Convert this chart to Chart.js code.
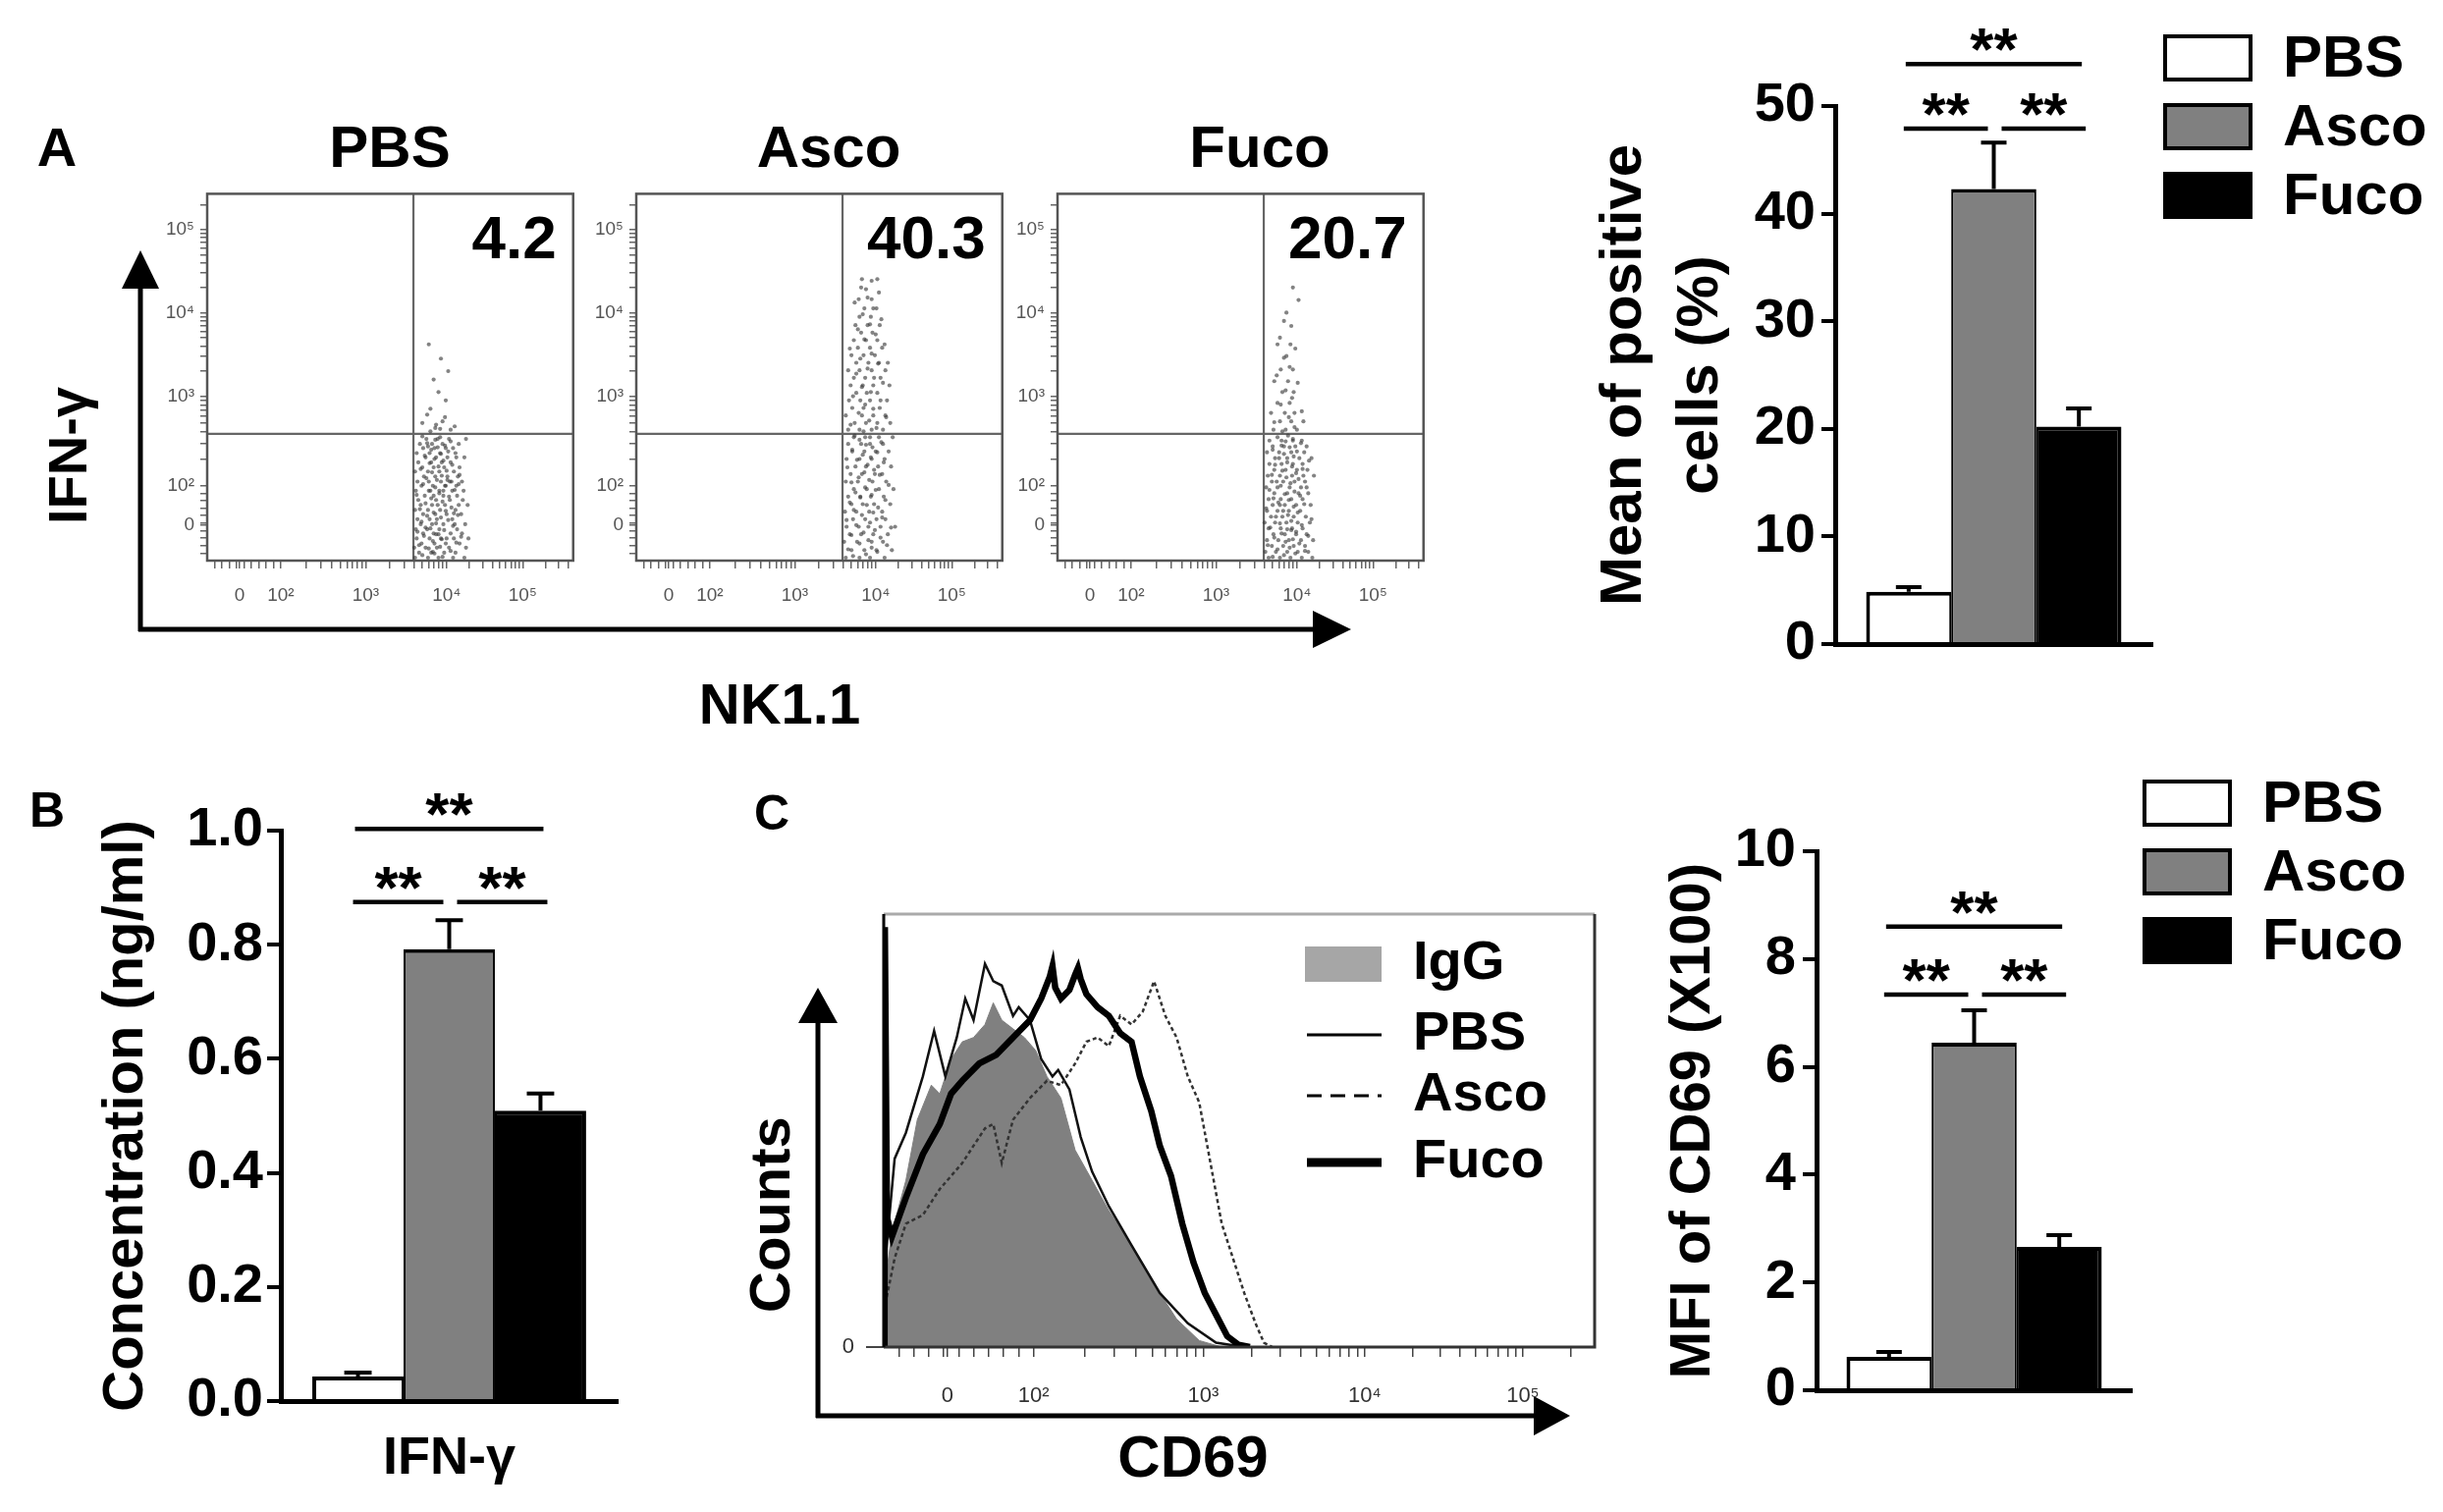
<!DOCTYPE html>
<html><head><meta charset="utf-8">
<script src="https://cdn.jsdelivr.net/npm/chart.js@4.4.0/dist/chart.umd.min.js"></script>
<style>
html,body{margin:0;padding:0;background:#fff;}
#page{position:relative;width:2488px;height:1540px;background:#fff;overflow:hidden;font-family:'Liberation Sans',Arial,sans-serif;font-weight:bold;color:#000;}
canvas{position:absolute;}
.lbl{position:absolute;white-space:nowrap;transform:translate(-50%,-50%);line-height:1;}
.rot{transform:translate(-50%,-50%) rotate(-90deg);}
svg{position:absolute;left:0;top:0;}
</style></head><body><div id="page">
<svg width="2488" height="1540">
 <g stroke="#000" stroke-width="5" fill="none">
  <line x1="143" y1="643" x2="143" y2="285"/>
  <line x1="141" y1="641" x2="1345" y2="641"/>
  <line x1="833" y1="1444" x2="833" y2="1035"/>
  <line x1="831" y1="1442" x2="1567" y2="1442"/>
 </g>
 <g fill="#000">
  <polygon points="143,255 124,294 162,294"/>
  <polygon points="1376,641 1337,622 1337,660"/>
  <polygon points="833,1006 813,1042 853,1042"/>
  <polygon points="1599,1442 1562,1422 1562,1462"/>
 </g>
</svg>
<div class="lbl" style="left:58px;top:150px;font-size:56px">A</div>
<div class="lbl" style="left:48px;top:825px;font-size:50px">B</div>
<div class="lbl" style="left:786px;top:828px;font-size:50px">C</div>
<div class="lbl" id="t0" style="left:397px;top:150px;font-size:60px"></div>
<div class="lbl" id="t1" style="left:844px;top:150px;font-size:60px"></div>
<div class="lbl" id="t2" style="left:1283px;top:150px;font-size:60px"></div>
<div class="lbl rot" style="left:69px;top:464px;font-size:56px">IFN-γ</div>
<div class="lbl" style="left:794px;top:717px;font-size:58px">NK1.1</div>
<div class="lbl rot" style="left:784px;top:1237px;font-size:58px">Counts</div>
<div class="lbl" style="left:1215px;top:1484px;font-size:60px">CD69</div>
<canvas id="dot0" width="445" height="455" style="left:150px;top:180px"></canvas>
<canvas id="dot1" width="445" height="455" style="left:587px;top:180px"></canvas>
<canvas id="dot2" width="445" height="455" style="left:1016px;top:180px"></canvas>
<canvas id="barNK" width="928" height="760" style="left:1560px;top:0px"></canvas>
<canvas id="barIFN" width="720" height="780" style="left:0px;top:760px"></canvas>
<canvas id="hist" width="900" height="640" style="left:740px;top:880px"></canvas>
<canvas id="barCD69" width="888" height="780" style="left:1600px;top:760px"></canvas>
</div>
<script>
// ---------------- DATA ----------------
const groups = ['PBS', 'Asco', 'Fuco'];

// Panel A: dot plots (NK1.1 vs IFN-γ), coordinates in decade units of the display scale
const flowTitles = ['PBS', 'Asco', 'Fuco'];
const flowPercent = ['4.2', '40.3', '20.7'];
const flowGateX = 3.59;
const flowGateY = 2.55;
const logLabels = ['0', '10²', '10³', '10⁴', '10⁵'];
const flowXMajor = [1.44, 1.95, 3, 4, 4.94];
const flowYMajor = [1.465, 1.93, 3, 4, 4.99];

const dotsPBS = [[3.70,1.10],[3.85,1.12],[3.95,1.08],[4.05,1.15],[3.78,1.18],[3.66,1.22],[3.92,1.20],[4.12,1.25],[3.83,1.27],[4.00,1.30],[3.72,1.33],[3.90,1.35],[4.18,1.32],[3.64,1.38],[3.97,1.40],[3.80,1.42],[4.08,1.45],[3.87,1.48],[3.69,1.50],[4.02,1.52],[3.93,1.55],[3.76,1.57],[4.14,1.58],[3.84,1.61],[3.99,1.63],[3.67,1.65],[4.06,1.67],[3.89,1.70],[3.74,1.72],[3.95,1.74],[4.20,1.76],[3.81,1.78],[4.03,1.80],[3.63,1.82],[3.91,1.84],[3.78,1.87],[4.10,1.88],[3.86,1.91],[3.98,1.93],[3.71,1.95],[4.04,1.98],[3.88,2.00],[3.75,2.02],[3.94,2.05],[4.16,2.06],[3.82,2.09],[4.00,2.11],[3.68,2.13],[3.90,2.16],[4.07,2.18],[3.79,2.20],[3.96,2.23],[3.85,2.25],[4.12,2.27],[3.73,2.29],[3.93,2.31],[4.02,2.34],[3.81,2.36],[3.89,2.39],[3.98,2.41],[3.76,2.44],[4.05,2.46],[3.86,2.48],[3.92,2.51],[3.70,2.52],[4.09,1.60],[3.87,1.35],[3.96,1.87],[3.74,1.43],[4.01,2.00],[3.83,1.14],[3.94,1.29],[4.15,1.95],[3.77,2.40],[3.86,2.62],[3.95,2.70],[3.80,2.85],[3.99,2.95],[3.84,3.20],[3.93,3.45],[3.78,3.62],
 [3.61,1.07],[3.77,1.07],[3.90,1.07],[4.08,1.07],[4.22,1.07],[3.66,1.13],[3.81,1.13],[3.97,1.13],[4.11,1.13],[3.60,1.19],[3.74,1.19],[3.88,1.19],[4.03,1.19],[4.24,1.19],[3.69,1.24],[3.85,1.24],[3.99,1.24],[4.16,1.24],[3.63,1.30],[3.79,1.30],[3.93,1.30],[4.09,1.30],[4.27,1.30],[3.71,1.36],[3.84,1.36],[4.05,1.36],[4.19,1.36],[3.62,1.41],[3.76,1.41],[3.91,1.41],[4.13,1.41],[3.68,1.47],[3.82,1.47],[3.96,1.47],[4.10,1.47],[4.23,1.47],[3.64,1.53],[3.79,1.53],[3.88,1.53],[4.07,1.53],[3.71,1.59],[3.86,1.59],[4.00,1.59],[4.18,1.59],[3.61,1.64],[3.77,1.64],[3.92,1.64],[4.11,1.64],[3.68,1.70],[3.82,1.70],[3.98,1.70],[4.15,1.70],[4.26,1.70],[3.65,1.76],[3.87,1.76],[4.04,1.76],[3.73,1.81],[3.84,1.81],[3.96,1.81],[4.13,1.81],[3.62,1.87],[3.80,1.87],[3.91,1.87],[4.07,1.87],[4.21,1.87],[3.69,1.93],[3.83,1.93],[3.99,1.93],[4.12,1.93],[3.64,1.98],[3.78,1.98],[3.93,1.98],[4.06,1.98],[4.19,1.98],[3.72,2.04],[3.86,2.04],[4.01,2.04],[4.14,2.04],[3.61,2.10],[3.77,2.10],[3.91,2.10],[4.09,2.10],[3.70,2.15],[3.84,2.15],[3.97,2.15],[4.16,2.15],[3.65,2.21],[3.81,2.21],[3.94,2.21],[4.05,2.21],[3.74,2.27],[3.87,2.27],[4.01,2.27],[4.22,2.27],[3.63,2.32],[3.79,2.32],[3.92,2.32],[4.11,2.32],[3.71,2.38],[3.85,2.38],[3.99,2.38],[4.08,2.38],[3.67,2.43],[3.82,2.43],[3.95,2.43],[4.15,2.43],[3.75,2.49],[3.89,2.49],[4.03,2.49],[4.24,2.49],
 [3.80,2.58],[3.92,2.61],[4.05,2.60],[3.87,2.66],[3.98,2.75],[3.76,2.78],[4.10,2.64],[3.90,3.05],[4.02,3.30],[3.70,2.68]];
const dotsAsco = [[3.72,1.09],[3.88,1.11],[4.02,1.14],[3.66,1.17],[3.95,1.19],[4.14,1.22],[3.80,1.24],[3.91,1.28],[4.06,1.31],[3.70,1.34],[3.85,1.37],[3.99,1.40],[4.19,1.43],[3.76,1.46],[3.93,1.49],[3.64,1.52],[4.08,1.55],[3.83,1.58],[3.97,1.61],[3.73,1.64],[4.03,1.67],[3.89,1.70],[3.68,1.73],[4.12,1.76],[3.81,1.79],[3.95,1.82],[3.75,1.85],[4.00,1.88],[3.87,1.91],[4.16,1.94],[3.70,1.97],[3.92,2.00],[3.79,2.03],[4.05,2.06],[3.86,2.09],[3.98,2.12],[3.65,2.15],[3.90,2.18],[4.10,2.21],[3.77,2.24],[3.94,2.27],[3.84,2.30],[4.02,2.33],[3.71,2.36],[3.96,2.39],[3.88,2.42],[4.07,2.45],[3.80,2.48],[3.93,2.51],[3.74,2.53],[3.85,2.58],[4.01,2.62],[3.69,2.66],[3.92,2.71],[4.13,2.75],[3.79,2.80],[3.97,2.85],[3.87,2.90],[4.06,2.95],[3.72,3.00],[3.94,3.05],[3.83,3.11],[4.09,3.16],[3.98,3.22],[3.76,3.27],[3.90,3.33],[4.03,3.39],[3.81,3.45],[3.95,3.51],[3.68,3.57],[4.11,3.62],[3.86,3.68],[4.00,3.74],[3.78,3.80],[3.93,3.86],[4.07,3.92],[3.84,3.98],[3.97,4.05],[3.74,4.12],[3.90,4.18],[4.04,4.24],[3.82,4.30],[3.95,4.38],[4.15,3.40],
 [3.63,1.07],[3.80,1.07],[3.93,1.07],[4.11,1.07],[3.70,1.16],[3.86,1.16],[4.01,1.16],[4.20,1.16],[3.61,1.26],[3.77,1.26],[3.95,1.26],[4.09,1.26],[3.68,1.35],[3.82,1.35],[3.97,1.35],[4.15,1.35],[3.64,1.44],[3.79,1.44],[3.91,1.44],[4.06,1.44],[4.24,1.44],[3.72,1.53],[3.87,1.53],[4.01,1.53],[4.12,1.53],[3.62,1.62],[3.76,1.62],[3.92,1.62],[4.08,1.62],[3.70,1.71],[3.84,1.71],[3.98,1.71],[4.18,1.71],[3.66,1.80],[3.81,1.80],[3.94,1.80],[4.10,1.80],[3.73,1.89],[3.89,1.89],[4.04,1.89],[4.22,1.89],[3.63,1.98],[3.78,1.98],[3.96,1.98],[4.13,1.98],[3.69,2.07],[3.83,2.07],[3.99,2.07],[4.08,2.07],[3.75,2.16],[3.88,2.16],[4.03,2.16],[4.19,2.16],[3.64,2.25],[3.80,2.25],[3.95,2.25],[4.11,2.25],[3.71,2.34],[3.86,2.34],[4.00,2.34],[4.16,2.34],[3.66,2.43],[3.82,2.43],[3.93,2.43],[4.09,2.43],[3.73,2.51],[3.87,2.51],[4.04,2.51],[4.21,2.51],
 [3.66,2.60],[3.80,2.60],[3.95,2.60],[4.09,2.60],[3.74,2.68],[3.88,2.68],[4.02,2.68],[4.18,2.68],[3.63,2.77],[3.83,2.77],[3.97,2.77],[4.12,2.77],[3.71,2.86],[3.85,2.86],[4.05,2.86],[3.67,2.95],[3.81,2.95],[3.93,2.95],[4.14,2.95],[3.76,3.04],[3.89,3.04],[4.02,3.04],[3.69,3.13],[3.84,3.13],[3.97,3.13],[4.17,3.13],[3.73,3.22],[3.87,3.22],[4.06,3.22],[3.66,3.31],[3.80,3.31],[3.95,3.31],[4.12,3.31],[3.76,3.40],[3.91,3.40],[4.04,3.40],[3.70,3.49],[3.85,3.49],[3.99,3.49],[3.78,3.58],[3.93,3.58],[4.08,3.58],[3.73,3.67],[3.88,3.67],[4.02,3.67],[3.82,3.76],[3.96,3.76],[3.75,3.85],[3.90,3.85],[4.05,3.85],[3.80,3.95],[3.94,3.95],[3.86,4.05],[4.01,4.05],[3.79,4.16],[3.95,4.16],[3.88,4.28],[3.83,4.40],[4.02,4.40]];
const dotsFuco = [[3.70,1.08],[3.84,1.10],[3.98,1.12],[4.10,1.15],[3.76,1.17],[3.91,1.19],[3.64,1.22],[4.03,1.24],[3.86,1.26],[3.95,1.29],[3.72,1.31],[4.14,1.33],[3.81,1.36],[3.99,1.38],[3.88,1.41],[3.67,1.43],[4.06,1.46],[3.79,1.48],[3.93,1.51],[4.18,1.53],[3.74,1.56],[3.89,1.58],[4.01,1.61],[3.83,1.63],[3.62,1.66],[3.96,1.68],[4.09,1.71],[3.77,1.73],[3.90,1.76],[3.71,1.78],[4.04,1.81],[3.85,1.83],[3.97,1.86],[3.66,1.88],[4.12,1.91],[3.80,1.93],[3.92,1.96],[3.75,1.98],[4.02,2.01],[3.87,2.03],[3.69,2.06],[3.99,2.08],[3.82,2.11],[4.07,2.13],[3.94,2.16],[3.73,2.18],[3.88,2.21],[4.15,2.23],[3.78,2.26],[3.96,2.28],[3.84,2.31],[4.00,2.34],[3.70,2.36],[3.91,2.39],[3.81,2.41],[4.05,2.44],[3.86,2.46],[3.95,2.49],[3.76,2.51],[3.89,2.53],[3.93,1.40],[3.79,1.70],[3.82,2.58],[3.97,2.63],[3.72,2.69],[3.90,2.75],[4.06,2.82],[3.80,2.90],[3.94,2.98],[3.86,3.07],[4.01,3.16],[3.75,3.25],[3.91,3.35],[3.84,3.46],[3.98,3.57],[3.79,3.70],[3.93,3.84],[3.87,4.00],[4.02,4.15],[3.95,4.30],
 [3.65,1.07],[3.79,1.07],[3.92,1.07],[4.06,1.07],[4.19,1.07],[3.61,1.14],[3.74,1.14],[3.88,1.14],[4.01,1.14],[4.14,1.14],[3.69,1.21],[3.83,1.21],[3.96,1.21],[4.10,1.21],[3.63,1.28],[3.77,1.28],[3.90,1.28],[4.05,1.28],[4.20,1.28],[3.71,1.35],[3.85,1.35],[3.99,1.35],[4.12,1.35],[3.65,1.42],[3.80,1.42],[3.94,1.42],[4.07,1.42],[3.60,1.49],[3.73,1.49],[3.87,1.49],[4.01,1.49],[4.16,1.49],[3.68,1.56],[3.82,1.56],[3.96,1.56],[4.11,1.56],[3.63,1.63],[3.76,1.63],[3.90,1.63],[4.04,1.63],[3.70,1.70],[3.85,1.70],[3.99,1.70],[4.17,1.70],[3.65,1.77],[3.80,1.77],[3.93,1.77],[4.07,1.77],[3.72,1.84],[3.88,1.84],[4.02,1.84],[4.14,1.84],[3.62,1.91],[3.76,1.91],[3.91,1.91],[4.05,1.91],[3.69,1.98],[3.83,1.98],[3.97,1.98],[4.10,1.98],[3.64,2.05],[3.79,2.05],[3.94,2.05],[4.08,2.05],[4.21,2.05],[3.72,2.12],[3.86,2.12],[4.00,2.12],[4.13,2.12],[3.66,2.19],[3.81,2.19],[3.95,2.19],[4.07,2.19],[3.73,2.26],[3.88,2.26],[4.03,2.26],[4.18,2.26],[3.63,2.33],[3.78,2.33],[3.93,2.33],[4.09,2.33],[3.70,2.40],[3.84,2.40],[3.98,2.40],[4.12,2.40],[3.66,2.47],[3.81,2.47],[3.95,2.47],[4.06,2.47],
 [3.71,2.60],[3.86,2.60],[4.00,2.60],[3.79,2.70],[3.93,2.70],[4.08,2.70],[3.68,2.80],[3.85,2.80],[3.97,2.80],[3.76,2.92],[3.91,2.92],[3.82,3.05],[3.96,3.05],[3.72,3.18],[3.89,3.18],[3.80,3.32],[3.95,3.32],[3.87,3.48],[3.76,3.62],[3.92,3.62],[3.84,3.90]];

// Panel A right: mean of positive cells (%)
const nkCategories = [''];
const nkMean = [4.85, 42.3, 20.2];
const nkErr = [0.45, 4.3, 1.7];
const nkSig = [[0, 2, 53.9], [0, 1, 47.9], [1, 2, 47.9]];

// Panel B: IFN-γ concentration (ng/ml)
const ifnCategories = ['IFN-γ'];
const ifnMean = [0.043, 0.792, 0.509];
const ifnErr = [0.007, 0.051, 0.030];
const ifnSig = [[0, 2, 1.003], [0, 1, 0.875], [1, 2, 0.875]];

// Panel C left: CD69 histograms (x in decade units, y in % of max)
const histXMajor = [1.43, 1.96, 3, 3.99, 4.96];
const cd69IgG = [[1.05,15],[1.09,26.5],[1.176,38.5],[1.246,52.5],[1.332,60.5],[1.384,58.5],[1.453,66.5],[1.522,70.5],[1.591,71.5],[1.661,74.5],[1.712,79.5],[1.764,75.5],[1.833,73.5],[1.903,71.5],[1.972,68.5],[2.041,62.5],[2.127,57.5],[2.214,45.5],[2.318,38.5],[2.421,31.5],[2.56,23.5],[2.698,14.5],[2.836,6.5],[2.975,1.5],[3.113,0]];
const cd69PBS = [[1.05,20],[1.107,43.5],[1.176,49.5],[1.28,62.5],[1.349,73],[1.418,62.5],[1.488,71.5],[1.54,80.5],[1.591,75.5],[1.661,88.5],[1.712,84.5],[1.764,83.5],[1.833,76.5],[1.868,78.5],[1.937,75.5],[2.006,66.5],[2.075,62.5],[2.11,64],[2.179,59.5],[2.248,48.5],[2.318,40.5],[2.421,32.5],[2.56,23.5],[2.733,12.5],[2.905,5.5],[3.078,1],[3.251,0]];
const cd69Asco = [[1.05,10],[1.107,20.5],[1.176,28.5],[1.28,30.5],[1.384,36.5],[1.453,39.5],[1.522,42.5],[1.591,46.5],[1.661,50.5],[1.712,51.5],[1.764,42.5],[1.833,52.5],[1.937,57.5],[2.041,61.5],[2.127,60.5],[2.214,65.5],[2.283,70.5],[2.352,71.5],[2.421,69.5],[2.49,76.5],[2.56,74.5],[2.629,77.5],[2.698,84.5],[2.767,76.5],[2.836,71.5],[2.905,62.5],[2.975,56.5],[3.044,42.5],[3.113,28.5],[3.182,20.5],[3.251,12.5],[3.32,5.5],[3.372,1],[3.424,0]];
const cd69Fuco = [[1.045,0],[1.047,97],[1.06,30],[1.09,25.5],[1.176,34.5],[1.28,44.5],[1.384,51.5],[1.453,58.5],[1.522,61.5],[1.626,65.5],[1.73,67.5],[1.833,71.5],[1.937,75.5],[2.006,80.5],[2.058,85.5],[2.075,88],[2.092,83],[2.127,80.5],[2.179,82.5],[2.214,86],[2.231,87.5],[2.248,85],[2.283,81.5],[2.352,78.5],[2.421,76.5],[2.49,72.5],[2.56,70.5],[2.611,62.5],[2.681,54.5],[2.733,46.5],[2.802,39.5],[2.871,28.5],[2.94,19.5],[3.009,12.5],[3.078,7.5],[3.147,2.5],[3.217,0.5],[3.286,0]];

// Panel C right: MFI of CD69 (x100)
const cdCategories = [''];
const cdMean = [0.62, 6.45, 2.66];
const cdErr = [0.09, 0.60, 0.22];
const cdSig = [[0, 2, 8.6], [0, 1, 7.34], [1, 2, 7.34]];

// ---------------- HELPERS ----------------
const FONT = "'Liberation Sans', Arial, sans-serif";
Chart.defaults.font.family = FONT;
Chart.defaults.color = '#000';

flowTitles.forEach((t, i) => { document.getElementById('t' + i).textContent = t; });

function buildTicks(majors, lo, hi) {
  const vals = majors.slice();
  for (let k = 1; k < 10; k++) vals.push(lo + (majors[1] - lo) * k / 10);
  for (let d = 1; d < majors.length; d++) {
    const a = majors[d];
    const b = d + 1 < majors.length ? majors[d + 1] : majors[d] + (majors[d] - majors[d - 1]);
    for (let k = 2; k <= 9; k++) vals.push(a + (b - a) * Math.log10(k));
  }
  return vals.filter(v => v > lo && v < hi).sort((p, q) => p - q).map(v => ({ value: v }));
}
function majorLabel(majors, v) {
  const i = majors.findIndex(m => Math.abs(m - v) < 1e-9);
  return i >= 0 ? logLabels[i] : '';
}

// ---------------- PLUGINS ----------------
const flowFrame = {
  id: 'flowFrame',
  beforeDatasetsDraw(chart, args, o) {
    const { ctx, chartArea: a, scales: { x, y } } = chart;
    ctx.save();
    const gx = x.getPixelForValue(o.gateX), gy = y.getPixelForValue(o.gateY);
    ctx.strokeStyle = '#666'; ctx.lineWidth = 2.2;
    ctx.beginPath();
    ctx.moveTo(gx, a.top); ctx.lineTo(gx, a.bottom);
    ctx.moveTo(a.left, gy); ctx.lineTo(a.right, gy);
    ctx.stroke();
    ctx.restore();
  },
  afterDraw(chart, args, o) {
    const { ctx, chartArea: a } = chart;
    ctx.save();
    ctx.strokeStyle = '#555'; ctx.lineWidth = 2.5;
    ctx.strokeRect(a.left, a.top, a.right - a.left, a.bottom - a.top);
    ctx.fillStyle = '#000';
    ctx.font = 'bold 62px ' + FONT;
    ctx.textAlign = 'right'; ctx.textBaseline = 'middle';
    ctx.fillText(o.percent, a.right - 17, a.top + 49);
    ctx.restore();
  }
};

const barDeco = {
  id: 'barDeco',
  afterDatasetsDraw(chart, args, o) {
    const ctx = chart.ctx, ys = chart.scales.y, a = chart.chartArea;
    ctx.save();
    ctx.strokeStyle = '#000'; ctx.lineWidth = 4; ctx.lineCap = 'butt';
    const cx = [];
    chart.data.datasets.forEach((ds, i) => {
      const bar = chart.getDatasetMeta(i).data[0];
      cx.push(bar.x);
      const top = ys.getPixelForValue(ds.data[0] + ds.err);
      const half = bar.width * 0.15;
      ctx.beginPath();
      ctx.moveTo(bar.x, bar.y); ctx.lineTo(bar.x, top);
      ctx.moveTo(bar.x - half, top); ctx.lineTo(bar.x + half, top);
      ctx.stroke();
    });
    ctx.lineWidth = 4.5;
    ctx.fillStyle = '#000';
    ctx.font = 'bold 62px ' + FONT;
    ctx.textAlign = 'center'; ctx.textBaseline = 'alphabetic';
    o.sig.forEach(([p, q, v]) => {
      let x1, x2;
      if (p === 0 && q === 2) { x1 = cx[0] - 3; x2 = cx[2] + 3; }
      else if (p === 0) { x1 = cx[0] - 5; x2 = cx[1] - 6; }
      else { x1 = cx[1] + 8; x2 = cx[2] + 7; }
      const yy = ys.getPixelForValue(v);
      ctx.beginPath(); ctx.moveTo(x1, yy); ctx.lineTo(x2, yy); ctx.stroke();
      ctx.fillText('**', (x1 + x2) / 2, yy + 6);
    });
    if (o.legend) {
      ctx.font = 'bold 60px ' + FONT;
      ctx.textAlign = 'left'; ctx.textBaseline = 'middle';
      chart.data.datasets.forEach((ds, i) => {
        const bx = a.right + 11, by = a.top - 73 + i * 70;
        ctx.fillStyle = ds.backgroundColor;
        ctx.fillRect(bx, by, 91, 48);
        ctx.lineWidth = 4; ctx.strokeStyle = '#000';
        ctx.strokeRect(bx + 2, by + 2, 87, 44);
        ctx.fillStyle = '#000';
        ctx.fillText(ds.label, bx + 122, by + 26);
      });
    }
    ctx.restore();
  }
};

const histDeco = {
  id: 'histDeco',
  afterDatasetsDraw(chart, args, o) {
    const { ctx, chartArea: a } = chart;
    ctx.save();
    ctx.lineWidth = 3;
    ctx.strokeStyle = '#aaa';
    ctx.beginPath(); ctx.moveTo(a.left, a.top); ctx.lineTo(a.right, a.top); ctx.stroke();
    ctx.strokeStyle = '#333';
    ctx.beginPath(); ctx.moveTo(a.right, a.top); ctx.lineTo(a.right, a.bottom); ctx.lineTo(a.left, a.bottom); ctx.stroke();
    ctx.strokeStyle = '#000';
    ctx.beginPath(); ctx.moveTo(a.left, a.top); ctx.lineTo(a.left, a.bottom); ctx.stroke();
    const ds = chart.data.datasets;
    const lx = a.left + 429, tx = a.left + 539;
    const rows = [a.top + 51, a.top + 123, a.top + 185, a.top + 253];
    ctx.font = 'bold 56px ' + FONT;
    ctx.textAlign = 'left'; ctx.textBaseline = 'middle';
    ds.forEach((d, i) => {
      const yy = rows[i];
      if (d.fill) {
        ctx.fillStyle = '#a6a6a6';
        ctx.fillRect(lx, yy - 18, 78, 36);
      } else {
        ctx.strokeStyle = '#000';
        ctx.lineWidth = i === 3 ? 9 : 3;
        ctx.setLineDash(d.borderDash && d.borderDash.length ? [15, 9] : []);
        ctx.beginPath(); ctx.moveTo(lx + 2, yy); ctx.lineTo(lx + 78, yy); ctx.stroke();
        ctx.setLineDash([]);
      }
      ctx.fillStyle = '#000';
      ctx.fillText(d.label, tx, yy);
    });
    ctx.restore();
  }
};

// ---------------- CHARTS ----------------
function flowChart(id, dots, idx) {
  const xLo = 1.04, xHi = 5.565, yLo = 1.035, yHi = 5.42;
  new Chart(document.getElementById(id), {
    type: 'scatter',
    data: { datasets: [{ label: flowTitles[idx], data: dots, pointRadius: 2.1, pointBackgroundColor: 'rgba(55,55,55,0.62)', pointBorderWidth: 0, pointHoverRadius: 0 }] },
    options: {
      responsive: false, devicePixelRatio: 1, animation: false, events: [],
      layout: { padding: { left: 0, top: 17, right: 10, bottom: 10 } },
      plugins: { legend: { display: false }, tooltip: { enabled: false },
        flowFrame: { gateX: flowGateX, gateY: flowGateY, percent: flowPercent[idx] } },
      scales: {
        x: { type: 'linear', min: xLo, max: xHi,
          afterFit: s => { s.height = 54; },
          afterBuildTicks: s => { s.ticks = buildTicks(flowXMajor, xLo, xHi); },
          ticks: { autoSkip: false, maxRotation: 0, minRotation: 0, padding: 16, color: '#555', font: { size: 19 }, callback: v => majorLabel(flowXMajor, v) },
          grid: { display: true, drawOnChartArea: false, drawTicks: true, tickLength: 8, color: '#666', lineWidth: 1.5 },
          border: { display: false } },
        y: { type: 'linear', min: yLo, max: yHi,
          afterFit: s => { s.width = 61; },
          afterBuildTicks: s => { s.ticks = buildTicks(flowYMajor, yLo, yHi); },
          ticks: { autoSkip: false, padding: 6, color: '#555', font: { size: 19 }, callback: v => majorLabel(flowYMajor, v) },
          grid: { display: true, drawOnChartArea: false, drawTicks: true, tickLength: 7, color: '#666', lineWidth: 1.5 },
          border: { display: false } }
      }
    },
    plugins: [flowFrame]
  });
}
flowChart('dot0', dotsPBS, 0);
flowChart('dot1', dotsAsco, 1);
flowChart('dot2', dotsFuco, 2);

function barChart(id, cats, means, errs, sig, c) {
  const fills = ['#ffffff', '#808080', '#000000'];
  const bw = [{ top: 4, left: 4, right: 2, bottom: 0 }, { top: 4, left: 2, right: 2, bottom: 0 }, { top: 4, left: 2, right: 4, bottom: 0 }];
  new Chart(document.getElementById(id), {
    type: 'bar',
    data: {
      labels: cats,
      datasets: groups.map((g, i) => ({ label: g, data: [means[i]], err: errs[i], backgroundColor: fills[i], borderColor: '#000', borderWidth: bw[i], borderSkipped: false, barPercentage: 1, categoryPercentage: c.cat }))
    },
    options: {
      responsive: false, devicePixelRatio: 1, animation: false, events: [],
      layout: { padding: c.pad },
      plugins: { legend: { display: false }, tooltip: { enabled: false }, barDeco: { sig: sig, legend: c.legend } },
      scales: {
        x: { afterFit: s => { s.height = c.xh; },
          grid: { display: false, drawTicks: false },
          border: { display: true, color: '#000', width: 5 },
          ticks: { display: c.xLabel, padding: 27, color: '#000', font: { size: 54, weight: 'bold' } } },
        y: { min: 0, max: c.max,
          afterFit: s => { s.width = c.yw; },
          ticks: { stepSize: c.step, padding: c.tp, color: '#000', font: { size: 56, weight: 'bold' }, callback: c.fmt },
          grid: { display: true, drawOnChartArea: false, drawTicks: true, tickLength: 14, color: '#000', lineWidth: 4 },
          border: { display: true, color: '#000', width: 5 },
          title: { display: true, text: c.title, color: '#000', font: { size: c.tsize, weight: 'bold', lineHeight: 1.3 }, padding: { top: c.tpad, bottom: 0 } } }
      }
    },
    plugins: [barDeco]
  });
}

barChart('barNK', nkCategories, nkMean, nkErr, nkSig, {
  cat: 0.805, pad: { left: 0, top: 108, right: 296, bottom: 104 }, xh: 0, xLabel: false,
  max: 50, step: 10, yw: 309, tp: 6, fmt: v => String(v), legend: true,
  title: ['Mean of positive', 'cells (%)'], tsize: 60, tpad: 55
});
barChart('barIFN', ifnCategories, ifnMean, ifnErr, ifnSig, {
  cat: 0.813, pad: { left: 0, top: 86, right: 91, bottom: 0 }, xh: 113, xLabel: true,
  max: 1.0, step: 0.2, yw: 286, tp: 4, fmt: v => Number(v).toFixed(1), legend: false,
  title: 'Concentration (ng/ml)', tsize: 58, tpad: 91
});
barChart('barCD69', cdCategories, cdMean, cdErr, cdSig, {
  cat: 0.81, pad: { left: 0, top: 107, right: 317, bottom: 124 }, xh: 0, xLabel: false,
  max: 10, step: 2, yw: 250, tp: 7, fmt: v => String(v), legend: true,
  title: 'MFI of CD69 (X100)', tsize: 58, tpad: 87
});

// Histogram
(function () {
  const xLo = 1.04, xHi = 5.40;
  new Chart(document.getElementById('hist'), {
    type: 'scatter',
    data: { datasets: [
      { label: 'IgG', data: cd69IgG, showLine: true, fill: 'origin', backgroundColor: '#808080', borderColor: '#808080', borderWidth: 1, pointRadius: 0, order: 3 },
      { label: 'PBS', data: cd69PBS, showLine: true, fill: false, borderColor: '#111', borderWidth: 2.5, pointRadius: 0, order: 2 },
      { label: 'Asco', data: cd69Asco, showLine: true, fill: false, borderColor: '#333', borderWidth: 2.5, borderDash: [4, 3], pointRadius: 0, order: 1 },
      { label: 'Fuco', data: cd69Fuco, showLine: true, fill: false, borderColor: '#000', borderWidth: 6.5, pointRadius: 0, order: 0 }
    ] },
    options: {
      responsive: false, devicePixelRatio: 1, animation: false, events: [],
      layout: { padding: { left: 0, top: 51, right: 16, bottom: 0 } },
      plugins: { legend: { display: false }, tooltip: { enabled: false } },
      scales: {
        x: { type: 'linear', min: xLo, max: xHi,
          afterFit: s => { s.height = 148; },
          afterBuildTicks: s => { s.ticks = buildTicks(histXMajor, xLo, xHi); },
          ticks: { autoSkip: false, maxRotation: 0, minRotation: 0, padding: 27, color: '#333', font: { size: 22 }, callback: v => majorLabel(histXMajor, v) },
          grid: { display: true, drawOnChartArea: false, drawTicks: true, tickLength: 10, color: '#444', lineWidth: 1.5 },
          border: { display: false } },
        y: { type: 'linear', min: 0, max: 100,
          afterFit: s => { s.width = 160; },
          afterBuildTicks: s => { s.ticks = [{ value: 0 }]; },
          ticks: { padding: 12, color: '#333', font: { size: 22 }, callback: () => '0' },
          grid: { display: true, drawOnChartArea: false, drawTicks: true, tickLength: 18, color: '#444', lineWidth: 2 },
          border: { display: false } }
      }
    },
    plugins: [histDeco]
  });
})();
</script></body></html>
